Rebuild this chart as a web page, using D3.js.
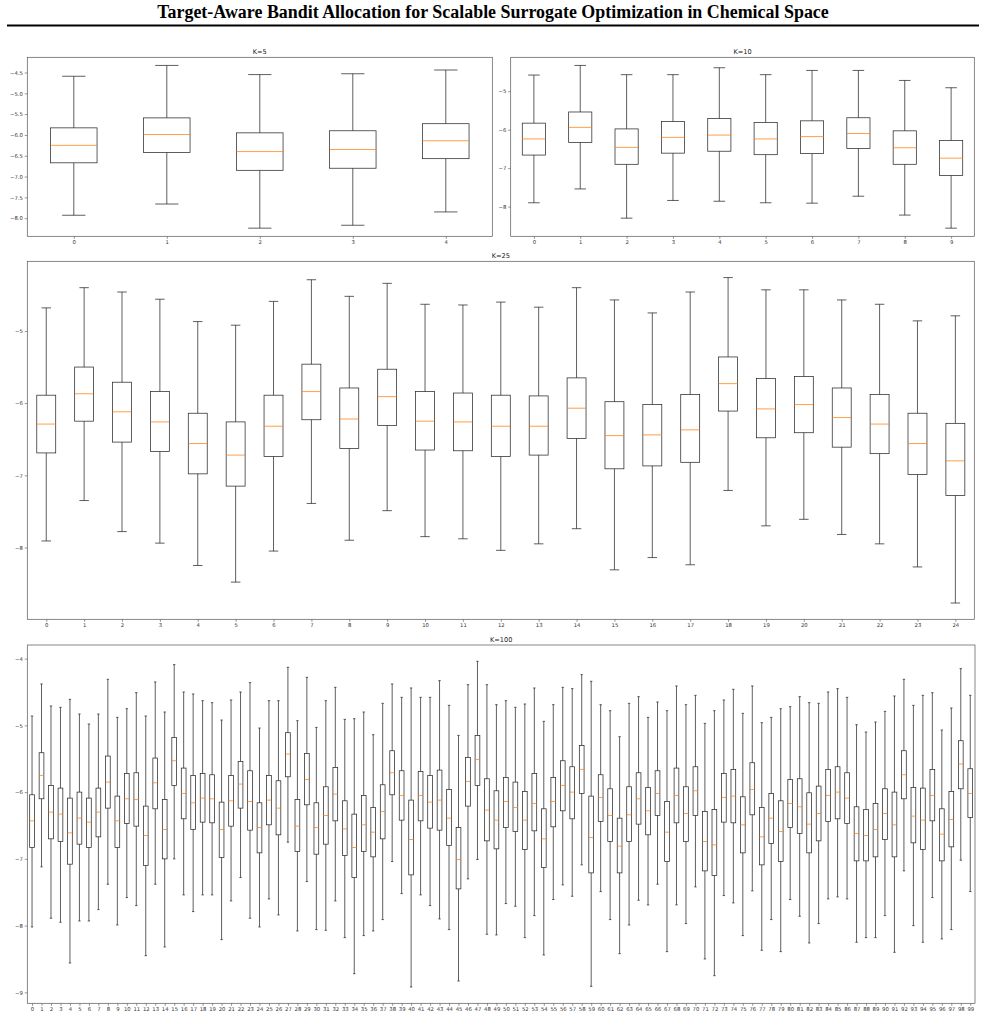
<!DOCTYPE html>
<html><head><meta charset="utf-8">
<script src="https://cdn.jsdelivr.net/npm/d3@7"></script>
<style>body{margin:0;background:#fff}</style>
</head><body><svg id="c" width="985" height="1018"></svg>
<script>
const mainTitle = "Target-Aware Bandit Allocation for Scalable Surrogate Optimization in Chemical Space";

// K=5
const k5Hi  = [-4.59,-4.33,-4.55,-4.53,-4.44];
const k5Q3  = [-5.83,-5.59,-5.95,-5.90,-5.73];
const k5Med = [-6.25,-5.99,-6.40,-6.35,-6.14];
const k5Q1  = [-6.67,-6.42,-6.85,-6.80,-6.57];
const k5Lo  = [-7.93,-7.66,-8.24,-8.17,-7.85];
const k5Ticks = [-4.5,-5.0,-5.5,-6.0,-6.5,-7.0,-7.5,-8.0];

// K=10
const k10Hi  = [-4.58,-4.33,-4.57,-4.57,-4.39,-4.57,-4.46,-4.46,-4.72,-4.91];
const k10Q3  = [-5.83,-5.54,-5.98,-5.79,-5.71,-5.81,-5.77,-5.69,-6.03,-6.28];
const k10Med = [-6.24,-5.94,-6.46,-6.20,-6.14,-6.24,-6.18,-6.10,-6.47,-6.74];
const k10Q1  = [-6.66,-6.33,-6.90,-6.61,-6.56,-6.65,-6.62,-6.49,-6.90,-7.19];
const k10Lo  = [-7.90,-7.54,-8.30,-7.84,-7.86,-7.90,-7.91,-7.73,-8.22,-8.56];
const k10Ticks = [-5,-6,-7,-8];

// K=25
const k25Hi  = [-4.68,-4.40,-4.46,-4.56,-4.87,-4.92,-4.59,-4.29,-4.52,-4.34,-4.63,-4.64,-4.60,-4.67,-4.40,-4.57,-4.75,-4.46,-4.26,-4.43,-4.43,-4.57,-4.63,-4.86,-4.79];
const k25Q3  = [-5.89,-5.50,-5.71,-5.84,-6.14,-6.26,-5.89,-5.46,-5.79,-5.53,-5.84,-5.86,-5.89,-5.90,-5.65,-5.98,-6.02,-5.88,-5.36,-5.66,-5.63,-5.79,-5.88,-6.14,-6.28];
const k25Med = [-6.29,-5.87,-6.12,-6.26,-6.56,-6.72,-6.32,-5.84,-6.22,-5.91,-6.25,-6.26,-6.32,-6.32,-6.07,-6.45,-6.44,-6.37,-5.73,-6.08,-6.02,-6.20,-6.29,-6.56,-6.80];
const k25Q1  = [-6.69,-6.25,-6.54,-6.67,-6.98,-7.15,-6.74,-6.23,-6.63,-6.31,-6.65,-6.66,-6.74,-6.72,-6.49,-6.91,-6.87,-6.82,-6.11,-6.48,-6.41,-6.61,-6.70,-6.99,-7.28];
const k25Lo  = [-7.91,-7.35,-7.78,-7.94,-8.25,-8.48,-8.05,-7.39,-7.90,-7.49,-7.85,-7.88,-8.04,-7.95,-7.74,-8.31,-8.14,-8.24,-7.21,-7.70,-7.61,-7.82,-7.95,-8.27,-8.77];
const k25Ticks = [-5,-6,-7,-8];

// K=100
const k100Hi = [-4.86,-4.38,-4.71,-4.73,-4.61,-4.83,-4.98,-4.83,-4.31,-4.88,
  -4.75,-4.51,-4.86,-4.35,-4.80,-4.09,-4.50,-4.53,-4.63,-4.66,
  -4.92,-4.62,-4.50,-4.36,-5.04,-4.63,-4.63,-4.13,-4.93,-4.28,
  -5.03,-4.63,-4.43,-4.91,-4.90,-4.80,-5.14,-4.67,-4.38,-4.58,
  -4.44,-4.58,-4.58,-4.33,-4.70,-5.15,-4.39,-4.04,-4.39,-4.69,
  -4.63,-4.73,-4.68,-4.44,-4.94,-4.69,-4.43,-4.45,-4.24,-4.34,
  -4.69,-4.78,-5.17,-4.67,-4.57,-4.88,-4.65,-4.78,-4.41,-4.69,
  -4.55,-4.97,-4.78,-4.62,-4.46,-4.82,-4.41,-4.96,-4.88,-4.75,
  -4.72,-4.57,-4.66,-4.67,-4.50,-4.45,-4.58,-4.99,-5.10,-4.95,
  -4.79,-4.56,-4.31,-4.70,-4.55,-4.51,-5.07,-4.74,-4.15,-4.55];
const k100Q3 = [-6.04,-5.41,-5.90,-5.94,-6.09,-6.00,-6.09,-5.94,-5.46,-6.06,
  -5.72,-5.71,-6.21,-5.49,-6.11,-5.18,-5.64,-5.75,-5.72,-5.74,
  -6.15,-5.75,-5.54,-5.68,-6.16,-5.75,-5.83,-5.11,-6.11,-5.42,
  -6.16,-5.92,-5.63,-6.13,-6.33,-6.05,-6.23,-5.89,-5.38,-5.68,
  -6.12,-5.69,-5.75,-5.67,-5.96,-6.53,-5.48,-5.15,-5.80,-5.98,
  -5.78,-5.85,-5.99,-5.72,-6.25,-5.78,-5.53,-5.62,-5.30,-6.06,
  -5.74,-5.95,-6.39,-5.92,-5.71,-5.93,-5.68,-6.14,-5.64,-5.92,
  -5.62,-6.29,-6.26,-5.72,-5.66,-6.07,-5.56,-6.23,-6.02,-6.13,
  -5.81,-5.80,-6.01,-5.91,-5.66,-5.62,-5.71,-6.22,-6.26,-6.17,
  -5.95,-6.00,-5.38,-5.93,-5.94,-5.66,-6.25,-5.99,-5.23,-5.65];
const k100Med = [-6.43,-5.75,-6.30,-6.33,-6.61,-6.39,-6.45,-6.30,-5.85,-6.43,
  -6.10,-6.11,-6.65,-5.86,-6.56,-5.53,-6.02,-6.16,-6.09,-6.10,
  -6.56,-6.13,-5.88,-6.14,-6.53,-6.12,-6.24,-5.43,-6.51,-5.81,
  -6.53,-6.35,-6.03,-6.55,-6.83,-6.49,-6.60,-6.29,-5.71,-6.05,
  -6.71,-6.05,-6.15,-6.12,-6.39,-7.01,-5.84,-5.51,-6.27,-6.42,
  -6.14,-6.23,-6.42,-6.17,-6.70,-6.14,-5.90,-6.00,-5.66,-6.68,
  -6.08,-6.35,-6.81,-6.34,-6.10,-6.28,-6.02,-6.60,-6.05,-6.32,
  -5.98,-6.74,-6.79,-6.08,-6.06,-6.49,-5.96,-6.67,-6.39,-6.59,
  -6.17,-6.22,-6.48,-6.32,-6.05,-6.00,-6.09,-6.62,-6.65,-6.56,
  -6.32,-6.49,-5.74,-6.36,-6.42,-6.05,-6.63,-6.41,-5.58,-6.02];
const k100Q1 = [-6.83,-6.10,-6.70,-6.74,-7.08,-6.78,-6.83,-6.67,-6.24,-6.83,
  -6.47,-6.51,-7.10,-6.25,-7.00,-5.90,-6.40,-6.56,-6.45,-6.46,
  -6.98,-6.51,-6.24,-6.57,-6.91,-6.49,-6.64,-5.77,-6.89,-6.19,
  -6.93,-6.78,-6.43,-6.95,-7.28,-6.89,-6.97,-6.70,-6.04,-6.42,
  -7.24,-6.43,-6.54,-6.57,-6.80,-7.45,-6.21,-5.90,-6.73,-6.85,
  -6.53,-6.59,-6.86,-6.58,-7.13,-6.52,-6.28,-6.40,-6.02,-7.21,
  -6.44,-6.74,-7.21,-6.74,-6.48,-6.64,-6.35,-7.04,-6.46,-6.74,
  -6.35,-7.18,-7.25,-6.45,-6.46,-6.91,-6.34,-7.09,-6.77,-7.04,
  -6.53,-6.62,-6.91,-6.73,-6.44,-6.40,-6.47,-7.03,-7.03,-6.97,
  -6.71,-6.97,-6.10,-6.76,-6.86,-6.43,-7.03,-6.82,-5.95,-6.38];
const k100Lo = [-8.02,-7.12,-7.89,-7.95,-8.56,-7.93,-7.93,-7.76,-7.38,-7.99,
  -7.58,-7.70,-8.45,-7.38,-8.32,-7.00,-7.54,-7.79,-7.54,-7.54,
  -8.21,-7.63,-7.28,-7.89,-8.02,-7.60,-7.84,-6.75,-8.08,-7.34,
  -8.06,-8.07,-7.63,-8.18,-8.72,-8.15,-8.08,-7.91,-7.04,-7.52,
  -8.92,-7.54,-7.70,-7.90,-8.06,-8.83,-7.30,-7.01,-8.13,-8.14,
  -7.67,-7.71,-8.18,-7.85,-8.44,-7.61,-7.39,-7.56,-7.09,-8.91,
  -7.49,-7.91,-8.42,-7.99,-7.62,-7.69,-7.38,-8.39,-7.69,-7.97,
  -7.42,-8.50,-8.75,-7.55,-7.66,-8.15,-7.48,-8.37,-7.91,-8.39,
  -7.61,-7.86,-8.26,-7.97,-7.60,-7.57,-7.60,-8.25,-8.18,-8.18,
  -7.85,-8.40,-7.18,-8.00,-8.25,-7.58,-8.20,-8.06,-7.02,-7.49];
const k100Ticks = [-4,-5,-6,-7,-8,-9];

const panels = [
  {title:"K=5",   hi:k5Hi,   q3:k5Q3,   med:k5Med,   q1:k5Q1,   lo:k5Lo,   ticks:k5Ticks,   fmt:".1f", rect:[27.3,57.3,492.3,236.3]},
  {title:"K=10",  hi:k10Hi,  q3:k10Q3,  med:k10Med,  q1:k10Q1,  lo:k10Lo,  ticks:k10Ticks,  fmt:"d",   rect:[510.7,57.3,974.3,236.3]},
  {title:"K=25",  hi:k25Hi,  q3:k25Q3,  med:k25Med,  q1:k25Q1,  lo:k25Lo,  ticks:k25Ticks,  fmt:"d",   rect:[27.3,261.3,974.3,619.3]},
  {title:"K=100", hi:k100Hi, q3:k100Q3, med:k100Med, q1:k100Q1, lo:k100Lo, ticks:k100Ticks, fmt:"d",   rect:[27.3,645,975,1003.3]}
];

const svg = d3.select("#c");
const FONT = "'DejaVu Sans', sans-serif";
const TICK_FS = 5.3, TITLE_FS = 6.6;
const LINE = "#2a2a2a", LW = 0.75, MED = "#ff7f0e";

// main title
const t = svg.append("text").text(mainTitle)
  .attr("x", 493).attr("y", 18.3).attr("text-anchor","middle")
  .attr("font-family","'Liberation Serif','Times New Roman',serif")
  .attr("font-weight","bold").attr("font-size",20).attr("fill","#000");
const w0 = t.node().getComputedTextLength();
t.attr("font-size", 20 * 672 / w0);
svg.append("line").attr("x1",7).attr("x2",979).attr("y1",25.5).attr("y2",25.5)
  .attr("stroke","#000").attr("stroke-width",2);

panels.forEach(p => {
  const [L,T,R,B] = p.rect;
  const n = p.med.length;
  const lo = d3.min(p.lo), hi = d3.max(p.hi), pad = (hi-lo)*0.05;
  const y = d3.scaleLinear().domain([lo-pad, hi+pad]).range([B, T]);
  const x = d3.scaleLinear().domain([0.5, n+0.5]).range([L, R]);
  const g = svg.append("g");
  const idx = d3.range(n);

  // axes via d3.axis
  const yAxis = d3.axisLeft(y).tickValues(p.ticks).tickFormat(d3.format(p.fmt)).tickSize(2.6).tickPadding(1.8);
  const gy = svg.append("g").attr("transform",`translate(${L},0)`).call(yAxis);
  const xAxis = d3.axisBottom(x).tickValues(idx.map(i=>i+1)).tickFormat(d=>String(d-1)).tickSize(2.6).tickPadding(1.6);
  const gx = svg.append("g").attr("transform",`translate(0,${B})`).call(xAxis);
  [gx,gy].forEach(a=>{
    a.select(".domain").remove();
    a.selectAll(".tick line").attr("stroke","#555").attr("stroke-width",0.6);
    a.selectAll(".tick text").attr("font-family",FONT).attr("font-size",TICK_FS).attr("fill","#333");
  });

  // whiskers
  g.selectAll(".wu").data(idx).join("line")
    .attr("x1",i=>x(i+1)).attr("x2",i=>x(i+1))
    .attr("y1",i=>y(p.q3[i])).attr("y2",i=>y(p.hi[i]))
    .attr("stroke",LINE).attr("stroke-width",LW);
  g.selectAll(".wl").data(idx).join("line")
    .attr("x1",i=>x(i+1)).attr("x2",i=>x(i+1))
    .attr("y1",i=>y(p.q1[i])).attr("y2",i=>y(p.lo[i]))
    .attr("stroke",LINE).attr("stroke-width",LW);
  // caps
  [p.hi,p.lo].forEach(arr=>{
    g.append("g").selectAll("line").data(idx).join("line")
      .attr("x1",i=>x(i+1-0.125)).attr("x2",i=>x(i+1+0.125))
      .attr("y1",i=>y(arr[i])).attr("y2",i=>y(arr[i]))
      .attr("stroke",LINE).attr("stroke-width",LW);
  });
  // boxes
  g.append("g").selectAll("rect").data(idx).join("rect")
    .attr("x",i=>x(i+1-0.25)).attr("width",i=>x(i+1.25)-x(i+0.75))
    .attr("y",i=>y(p.q3[i])).attr("height",i=>y(p.q1[i])-y(p.q3[i]))
    .attr("fill","none").attr("stroke",LINE).attr("stroke-width",LW);
  // medians
  g.append("g").selectAll("line").data(idx).join("line")
    .attr("x1",i=>x(i+1-0.25)).attr("x2",i=>x(i+1.25))
    .attr("y1",i=>y(p.med[i])).attr("y2",i=>y(p.med[i]))
    .attr("stroke",MED).attr("stroke-width",LW);

  // frame
  svg.append("rect").attr("x",L).attr("y",T).attr("width",R-L).attr("height",B-T)
    .attr("fill","none").attr("stroke","#555").attr("stroke-width",0.7);
  // title
  svg.append("text").text(p.title).attr("x",(L+R)/2).attr("y",T-3)
    .attr("text-anchor","middle").attr("font-family",FONT).attr("font-size",TITLE_FS).attr("fill","#222");
});
</script></body></html>
